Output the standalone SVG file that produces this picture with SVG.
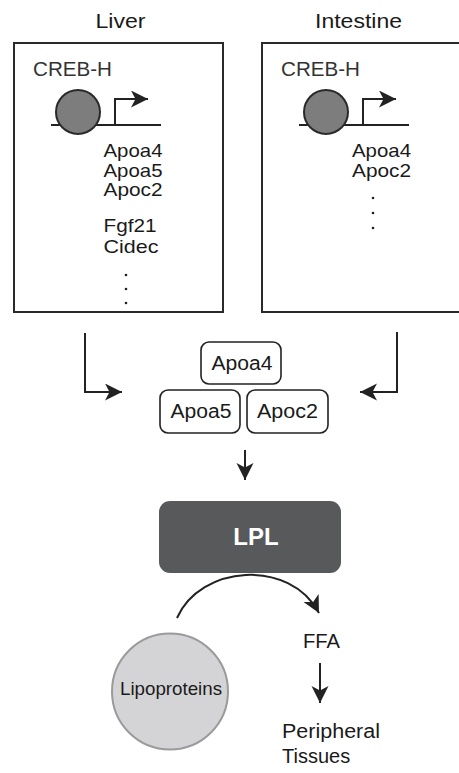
<svg xmlns="http://www.w3.org/2000/svg" width="459" height="773" viewBox="0 0 459 773">
<defs>
<style>
text{font-family:"Liberation Sans",Arial,sans-serif;fill:#1a1a1a}
.t{font-size:21px}
.g{font-size:20px}
.l{font-size:19px}
.c{font-size:20px;fill:#333}
.panel{fill:#fff;stroke:#2a2a2a;stroke-width:2}
.ln{fill:none;stroke:#222;stroke-width:2}
.pill{fill:#fff;stroke:#222;stroke-width:1.6}
.dot{fill:#222}
</style>
<marker id="ah" markerUnits="userSpaceOnUse" markerWidth="20" markerHeight="20" refX="17" refY="8.5" orient="auto">
<path d="M0,0 L17,8.5 L0,17 L4.5,8.5 Z" fill="#222"/>
</marker>
</defs>
<rect width="459" height="773" fill="#fff"/>

<g id="liver">
<text class="t" x="95.5" y="28" textLength="50" lengthAdjust="spacingAndGlyphs">Liver</text>
<rect class="panel" x="14" y="43" width="209" height="269"/>
<text class="c" x="33" y="76" textLength="79" lengthAdjust="spacingAndGlyphs">CREB-H</text>
<line class="ln" x1="51" y1="125" x2="161" y2="125"/>
<circle cx="78" cy="112" r="22" fill="#7d7d7d" stroke="#2a2a2a" stroke-width="2"/>
<path class="ln" d="M115,125 V99 H148" marker-end="url(#ah)"/>
<text class="l" x="103.5" y="157" textLength="59" lengthAdjust="spacingAndGlyphs">Apoa4</text>
<text class="l" x="103.5" y="177" textLength="59" lengthAdjust="spacingAndGlyphs">Apoa5</text>
<text class="l" x="103.5" y="196" textLength="59" lengthAdjust="spacingAndGlyphs">Apoc2</text>
<text class="l" x="103.5" y="232" textLength="53" lengthAdjust="spacingAndGlyphs">Fgf21</text>
<text class="l" x="103.5" y="253" textLength="55" lengthAdjust="spacingAndGlyphs">Cidec</text>
<circle class="dot" cx="126" cy="275" r="1.3"/>
<circle class="dot" cx="126" cy="289" r="1.3"/>
<circle class="dot" cx="126" cy="303" r="1.3"/>
</g>

<g id="intestine">
<text class="t" x="315" y="28" textLength="87" lengthAdjust="spacingAndGlyphs">Intestine</text>
<rect class="panel" x="262" y="43" width="210" height="269"/>
<text class="c" x="281" y="76" textLength="79" lengthAdjust="spacingAndGlyphs">CREB-H</text>
<line class="ln" x1="299" y1="125" x2="409" y2="125"/>
<circle cx="326" cy="112" r="22" fill="#7d7d7d" stroke="#2a2a2a" stroke-width="2"/>
<path class="ln" d="M363,125 V99 H396" marker-end="url(#ah)"/>
<text class="l" x="352" y="157" textLength="59" lengthAdjust="spacingAndGlyphs">Apoa4</text>
<text class="l" x="352" y="177" textLength="59" lengthAdjust="spacingAndGlyphs">Apoc2</text>
<circle class="dot" cx="373" cy="198" r="1.3"/>
<circle class="dot" cx="373" cy="213" r="1.3"/>
<circle class="dot" cx="373" cy="228" r="1.3"/>
</g>

<g id="apoa4">
<rect class="pill" x="201" y="342" width="80" height="42" rx="8"/>
<text class="g" x="211.5" y="370" textLength="61" lengthAdjust="spacingAndGlyphs">Apoa4</text>
</g>
<g id="apoa5">
<rect class="pill" x="160" y="390" width="80" height="43" rx="8"/>
<text class="g" x="170.5" y="418" textLength="61" lengthAdjust="spacingAndGlyphs">Apoa5</text>
</g>
<g id="apoc2">
<rect class="pill" x="247" y="390" width="81" height="43" rx="8"/>
<text class="g" x="257" y="418" textLength="61" lengthAdjust="spacingAndGlyphs">Apoc2</text>
</g>

<g id="lpl">
<rect x="159" y="501" width="182" height="72" rx="11" fill="#58595b"/>
<text x="256" y="545" text-anchor="middle" style="font-size:24px;font-weight:bold;fill:#fff">LPL</text>
</g>

<g id="lipoproteins">
<circle cx="170" cy="691.5" r="58" fill="#d4d4d6" stroke="#9a9a9a" stroke-width="2"/>
<text x="120" y="695" style="font-size:18.5px" textLength="102" lengthAdjust="spacingAndGlyphs">Lipoproteins</text>
</g>

<g id="ffa">
<text class="g" x="303" y="648" textLength="37" lengthAdjust="spacingAndGlyphs">FFA</text>
</g>

<g id="peripheral">
<text x="282" y="738" style="font-size:20px" textLength="98" lengthAdjust="spacingAndGlyphs">Peripheral</text>
<text x="282" y="763" style="font-size:20px">Tissues</text>
</g>

<g id="connectors">
<path class="ln" d="M85,333 V392 H122" marker-end="url(#ah)"/>
<path class="ln" d="M397,332 V392 H360" marker-end="url(#ah)"/>
<path class="ln" d="M245,450 V480" marker-end="url(#ah)"/>
<path class="ln" d="M177,618 C200,565 290,558 319,613" marker-end="url(#ah)"/>
<path class="ln" d="M320,663 V703" marker-end="url(#ah)"/>
</g>
</svg>
